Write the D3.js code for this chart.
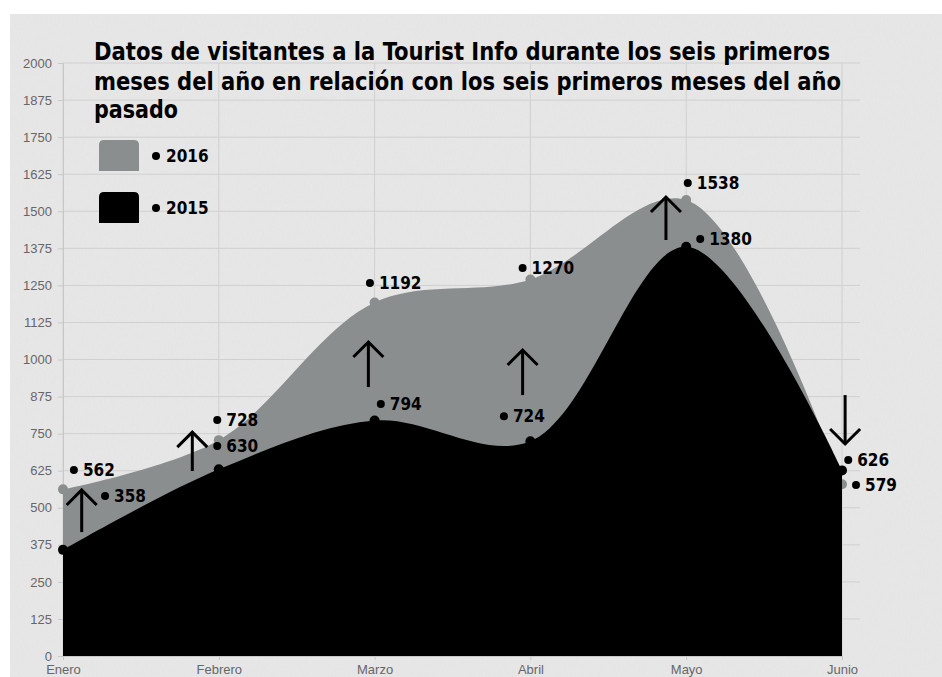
<!DOCTYPE html>
<html><head><meta charset="utf-8">
<script src="https://cdn.jsdelivr.net/npm/d3@7"></script>
<style>body{margin:0;background:#fff}svg{display:block}</style>
</head><body>
<svg id="chart" width="942" height="677"></svg>
<script>
const months = ["Enero","Febrero","Marzo","Abril","Mayo","Junio"];
const values2016 = [562, 728, 1192, 1270, 1538, 579];
const values2015 = [358, 630, 794, 724, 1380, 626];
const yTicks = [0,125,250,375,500,625,750,875,1000,1125,1250,1375,1500,1625,1750,1875,2000];
const titleLines = [
  "Datos de visitantes a la Tourist Info durante los seis primeros",
  "meses del año en relación con los seis primeros meses del año",
  "pasado"
];
const legendItems = ["2016","2015"];
// value labels: text, anchor month index (fractional), anchor value
const labelText = ["562","358","728","630","1192","794","1270","724","1538","1380","626","579"];
const labelMonth = [0.07,0.27,0.99,0.99,1.97,2.04,2.95,2.83,4.01,4.09,5.04,5.09];
const labelValue = [627,540,796,708,1258,850,1309,809,1595,1406,661,577];
// change arrows: month index, tail value, tip value
const arrowMonth = [0.12,0.83,1.96,2.95,3.87,5.02];
const arrowFrom = [418,624,907,880,1403,880];
const arrowTo = [560,755,1059,1032,1548,715];

const svg = d3.select("#chart");
const W = 942, H = 677;
const colGray = "#8b8e8e", colBlack = "#000";

// background with paper texture
const defs = svg.append("defs");
const f = defs.append("filter").attr("id","paper").attr("x",0).attr("y",0).attr("width","100%").attr("height","100%");
f.append("feTurbulence").attr("type","fractalNoise").attr("baseFrequency","0.9 0.25").attr("numOctaves",3).attr("seed",4).attr("result","n");
f.append("feColorMatrix").attr("in","n").attr("type","matrix")
  .attr("values","0 0 0 0 0.5  0 0 0 0 0.5  0 0 0 0 0.5  0 0 0 0.1 0");
svg.append("rect").attr("x",10).attr("y",14).attr("width",W-10).attr("height",H-14).attr("fill","#e8e8e8");
svg.append("rect").attr("x",10).attr("y",14).attr("width",W-10).attr("height",H-14).attr("filter","url(#paper)");

const x = d3.scalePoint().domain(months).range([63, 842]);
const step = x.step();
const xi = i => x(months[0]) + i*step;
const y = d3.scaleLinear().domain([0,2000]).range([656, 63]);

// grid
const g = svg.append("g");
g.selectAll(".hg").data(yTicks.slice(1)).join("line")
  .attr("x1",63).attr("x2",860).attr("y1",d=>y(d)).attr("y2",d=>y(d))
  .attr("stroke","#d0d0d0").attr("stroke-width",1);
g.selectAll(".vg").data(months).join("line")
  .attr("x1",d=>x(d)).attr("x2",d=>x(d)).attr("y1",y(2000)).attr("y2",y(0))
  .attr("stroke","#d0d0d0").attr("stroke-width",1);

const axisFont = "Liberation Sans, Arial, sans-serif";
// y axis
const yAxis = d3.axisLeft(y).tickValues(yTicks).tickFormat(d3.format("d")).tickSize(5).tickPadding(6);
const ya = svg.append("g").attr("transform","translate(63,0)").call(yAxis)
  .attr("font-size",13).attr("font-family",axisFont);
ya.select(".domain").attr("stroke","#c8c8c8");
ya.selectAll(".tick line").attr("stroke","#c8c8c8");
ya.selectAll("text").attr("fill","#666");

// x axis
const xAxis = d3.axisBottom(x).tickSize(4).tickPadding(5);
const xa = svg.append("g").attr("transform","translate(0,656)").call(xAxis)
  .attr("font-size",13).attr("font-family",axisFont);
xa.select(".domain").attr("stroke","#c8c8c8");
xa.selectAll(".tick line").attr("stroke","#c8c8c8");
xa.selectAll("text").attr("fill","#666");

// areas
const curve = d3.curveCatmullRom.alpha(0.5);
const area = d3.area().x((d,i)=>x(months[i])).y0(y(0)).y1(d=>y(d)).curve(curve);
svg.append("path").datum(values2016).attr("d",area).attr("fill",colGray);
svg.selectAll(".p16").data(values2016).join("circle")
  .attr("cx",(d,i)=>x(months[i])).attr("cy",d=>y(d)).attr("r",5).attr("fill",colGray);
svg.append("path").datum(values2015).attr("d",area).attr("fill",colBlack);
svg.selectAll(".p15").data(values2015).join("circle")
  .attr("cx",(d,i)=>x(months[i])).attr("cy",d=>y(d)).attr("r",5).attr("fill",colBlack);

// arrows
const arrows = svg.append("g").attr("stroke","#000").attr("stroke-width",3).attr("fill","none");
arrowMonth.forEach((m,i)=>{
  const ax = xi(m), y1 = y(arrowFrom[i]), y2 = y(arrowTo[i]);
  const dir = y2 < y1 ? 1 : -1;
  arrows.append("line").attr("x1",ax).attr("x2",ax).attr("y1",y1).attr("y2",y2);
  arrows.append("path").attr("d",`M${ax-15},${y2+15*dir} L${ax},${y2} L${ax+15},${y2+15*dir}`);
});

// value labels
const lab = svg.append("g");
const condFont = "'DejaVu Sans Condensed','DejaVu Sans',sans-serif";
labelText.forEach((t,i)=>{
  const lx = xi(labelMonth[i]), ly = y(labelValue[i]);
  lab.append("circle").attr("cx",lx).attr("cy",ly).attr("r",4).attr("fill","#000");
  lab.append("text").attr("x",lx+9).attr("y",ly+6).text(t)
    .style("font-family",condFont).style("font-weight","bold").style("font-size","17px").attr("fill","#000");
});

// title
const titleBase = [60, 90, 118];
const titleWidth = [736, 747, 84];
titleLines.forEach((t,i)=>{
  svg.append("text").attr("x",94).attr("y",titleBase[i]).text(t)
    .attr("textLength",titleWidth[i]).attr("lengthAdjust","spacingAndGlyphs")
    .style("font-family",condFont).style("font-weight","bold").style("font-size","25px").attr("fill","#000");
});

// legend
const legCols = [colGray, colBlack];
legendItems.forEach((t,i)=>{
  const ly = 140 + i*52;
  svg.append("path")
    .attr("d",`M99,${ly+31} L99,${ly+5} Q99,${ly} 104,${ly} L134,${ly} Q139,${ly} 139,${ly+5} L139,${ly+31} Z`)
    .attr("fill",legCols[i]);
  svg.append("circle").attr("cx",156).attr("cy",ly+16).attr("r",4).attr("fill","#000");
  svg.append("text").attr("x",166).attr("y",ly+22).text(t)
    .style("font-family",condFont).style("font-weight","bold").style("font-size","17px").attr("fill","#000");
});
</script>
</body></html>
